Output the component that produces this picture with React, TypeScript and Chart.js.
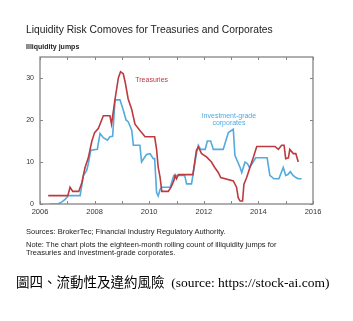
import React, { useEffect, useRef } from "react";
import { Chart, registerables } from "chart.js";

Chart.register(...registerables);

const treasuryYears = [2006.3, 2007.02, 2007.1, 2007.2, 2007.42, 2007.53, 2007.65, 2007.77, 2007.9, 2008.0, 2008.14, 2008.32, 2008.56, 2008.62, 2008.75, 2008.87, 2008.95, 2009.05, 2009.12, 2009.23, 2009.36, 2009.48, 2009.66, 2009.85, 2010.2, 2010.27, 2010.33, 2010.4, 2010.46, 2010.7, 2010.8, 2010.9, 2010.95, 2011.0, 2011.07, 2011.6, 2011.73, 2011.8, 2011.92, 2012.1, 2012.28, 2012.4, 2012.53, 2012.62, 2013.08, 2013.2, 2013.26, 2013.33, 2013.42, 2013.47, 2013.57, 2013.69, 2013.81, 2013.94, 2014.61, 2014.73, 2014.85, 2014.94, 2015.0, 2015.1, 2015.15, 2015.28, 2015.37, 2015.46];
const treasuryValues = [2, 2, 4, 3, 3, 5, 8.7, 11, 15, 17, 18, 21, 21, 19, 25, 30, 31.5, 31, 29, 25, 22.5, 19, 17.5, 16, 16, 13, 8.7, 6.3, 3, 3, 4, 5.5, 6.8, 6, 7, 7, 12.8, 13.6, 12, 11.2, 10, 8.7, 7.5, 6.3, 5.5, 4, 1.5, 0.7, 0.7, 4.7, 6.3, 8.7, 11, 13.7, 13.7, 13, 14, 14, 10.8, 11, 13, 12, 12, 10];

const corporateYears = [2006.37, 2006.66, 2006.8, 2006.92, 2007.04, 2007.47, 2007.59, 2007.71, 2007.77, 2007.86, 2008.1, 2008.2, 2008.32, 2008.47, 2008.56, 2008.66, 2008.75, 2008.93, 2009.05, 2009.15, 2009.23, 2009.36, 2009.42, 2009.66, 2009.72, 2009.9, 2010.03, 2010.15, 2010.2, 2010.27, 2010.33, 2010.4, 2010.46, 2010.77, 2010.9, 2011.3, 2011.37, 2011.55, 2011.73, 2011.8, 2011.88, 2012.05, 2012.13, 2012.25, 2012.35, 2012.71, 2012.9, 2013.08, 2013.14, 2013.33, 2013.39, 2013.51, 2013.6, 2013.67, 2013.78, 2013.9, 2014.32, 2014.42, 2014.57, 2014.75, 2014.91, 2015.0, 2015.08, 2015.17, 2015.27, 2015.37, 2015.46, 2015.58];
const corporateValues = [0, 0, 0.5, 1.1, 2, 2, 6.8, 8, 9.6, 12.8, 13, 16.8, 15.8, 15.2, 16, 16.1, 24.8, 24.8, 22.4, 20, 19.6, 17.6, 14, 14, 10, 11.8, 12, 10.8, 10.8, 2.7, 1.9, 3.5, 4, 4, 6.8, 6.8, 4.8, 4.8, 12, 14, 13, 13, 15, 15, 13, 13, 17, 17.8, 11.6, 8.7, 7.5, 10, 9.6, 8.7, 9.7, 11, 11, 6.8, 6, 6, 8.7, 6.8, 7, 7.7, 6.8, 6.3, 6, 6];

const xTickYears = [2006, 2007, 2008, 2009, 2010, 2011, 2012, 2013, 2014, 2015, 2016];
const yTickValues = [0, 10, 20, 30];

const RED = "#bd3a3f";
const BLUE = "#52aadf";
const FRAME = "#858585";

const seriesLabels = [
  { lines: ["Treasuries"], x: 2010.09, y: 29.4, color: RED },
  { lines: ["Investment-grade", "corporates"], x: 2012.92, y: 20.95, color: BLUE },
];

const framePlugin = {
  id: "frame",
  afterDraw(chart: any) {
    const { ctx, chartArea } = chart;
    const xs = chart.scales.x;
    const ys = chart.scales.y;
    const { left, right, top, bottom } = chartArea;
    ctx.save();
    ctx.strokeStyle = FRAME;
    ctx.lineWidth = 1.3;
    ctx.strokeRect(left, top, right - left, bottom - top);
    ctx.lineWidth = 1;
    const tl = 3;
    ctx.beginPath();
    xTickYears.forEach((yr) => {
      const px = Math.round(xs.getPixelForValue(yr)) + 0.5;
      ctx.moveTo(px, top);
      ctx.lineTo(px, top + tl);
      ctx.moveTo(px, bottom);
      ctx.lineTo(px, bottom - tl);
    });
    yTickValues.forEach((v) => {
      const py = Math.round(ys.getPixelForValue(v)) + 0.5;
      ctx.moveTo(left, py);
      ctx.lineTo(left + tl, py);
      ctx.moveTo(right, py);
      ctx.lineTo(right - tl, py);
    });
    ctx.stroke();
    ctx.font = '7px "Liberation Sans", Arial, sans-serif';
    ctx.textAlign = "center";
    ctx.textBaseline = "middle";
    seriesLabels.forEach((lab) => {
      ctx.fillStyle = lab.color;
      const cx = xs.getPixelForValue(lab.x);
      const cy = ys.getPixelForValue(lab.y);
      lab.lines.forEach((ln, i) => ctx.fillText(ln, cx, cy + i * 7.5));
    });
    ctx.restore();
  },
};

export default function App() {
  const ref = useRef<HTMLCanvasElement | null>(null);
  useEffect(() => {
    if (!ref.current) return;
    const chart = new Chart(ref.current, {
      type: "line",
      data: {
        datasets: [
          {
            label: "Treasuries",
            data: treasuryYears.map((x, i) => ({ x, y: treasuryValues[i] })),
            borderColor: RED,
            borderWidth: 1.6,
            pointRadius: 0,
            tension: 0,
          },
          {
            label: "Investment-grade corporates",
            data: corporateYears.map((x, i) => ({ x, y: corporateValues[i] })),
            borderColor: BLUE,
            borderWidth: 1.6,
            pointRadius: 0,
            tension: 0,
          },
        ],
      },
      options: {
        animation: false,
        responsive: false,
        maintainAspectRatio: false,
        layout: { padding: { top: 57, right: 40, left: 0, bottom: 97 } },
        plugins: { legend: { display: false }, tooltip: { enabled: false } },
        scales: {
          x: {
            type: "linear",
            min: 2006,
            max: 2016,
            afterFit: (s: any) => { s.height = 20; },
            afterBuildTicks: (s: any) => { s.ticks = xTickYears.map((v) => ({ value: v })); },
            ticks: {
              padding: 3,
              autoSkip: false,
              maxRotation: 0,
              color: "#333",
              font: { family: '"Liberation Sans", Arial, sans-serif', size: 7.5 },
              callback: (v: any) => (Number(v) % 2 === 0 ? String(v) : ""),
            },
            grid: { display: false, drawTicks: false },
            border: { display: false },
          },
          y: {
            min: 0,
            max: 35,
            afterFit: (s: any) => { s.width = 40; },
            afterBuildTicks: (s: any) => { s.ticks = yTickValues.map((v) => ({ value: v })); },
            ticks: {
              padding: 6,
              color: "#333",
              font: { family: '"Liberation Sans", Arial, sans-serif', size: 7 },
            },
            grid: { display: false, drawTicks: false },
            border: { display: false },
          },
        },
      },
      plugins: [framePlugin],
    });
    return () => chart.destroy();
  }, []);

  const sans = '"Liberation Sans", Arial, sans-serif';
  const text = (top: number, left: number, size: number, content: React.ReactNode, extra: React.CSSProperties = {}) => (
    <div style={{ position: "absolute", top, left, fontSize: size, fontFamily: sans, color: "#222", whiteSpace: "nowrap", lineHeight: 1, ...extra }}>
      {content}
    </div>
  );

  return (
    <div style={{ position: "fixed", left: 0, top: 0, width: 353, height: 321, background: "#fff" }}>
      <canvas ref={ref} width={353} height={321} style={{ position: "absolute", left: 0, top: 0, width: 353, height: 321 }} />
      {text(24.5, 26, 10.3, "Liquidity Risk Comoves for Treasuries and Corporates")}
      {text(43, 26, 7, "Illiquidity jumps", { fontWeight: "bold" })}
      {text(228, 26, 7.5, "Sources: BrokerTec; Financial Industry Regulatory Authority.")}
      {text(241, 26, 7.5, (
        <>
          Note: The chart plots the eighteen-month rolling count of illiquidity jumps for
          <br />
          Treasuries and investment-grade corporates.
        </>
      ), { lineHeight: "8px" })}
      {text(276, 16, 13.5, "圖四、流動性及違約風險  (source: https://stock-ai.com)", {
        fontFamily: '"Liberation Serif", "Noto Sans CJK TC", serif',
        color: "#000",
        whiteSpace: "pre",
      })}
    </div>
  );
}
